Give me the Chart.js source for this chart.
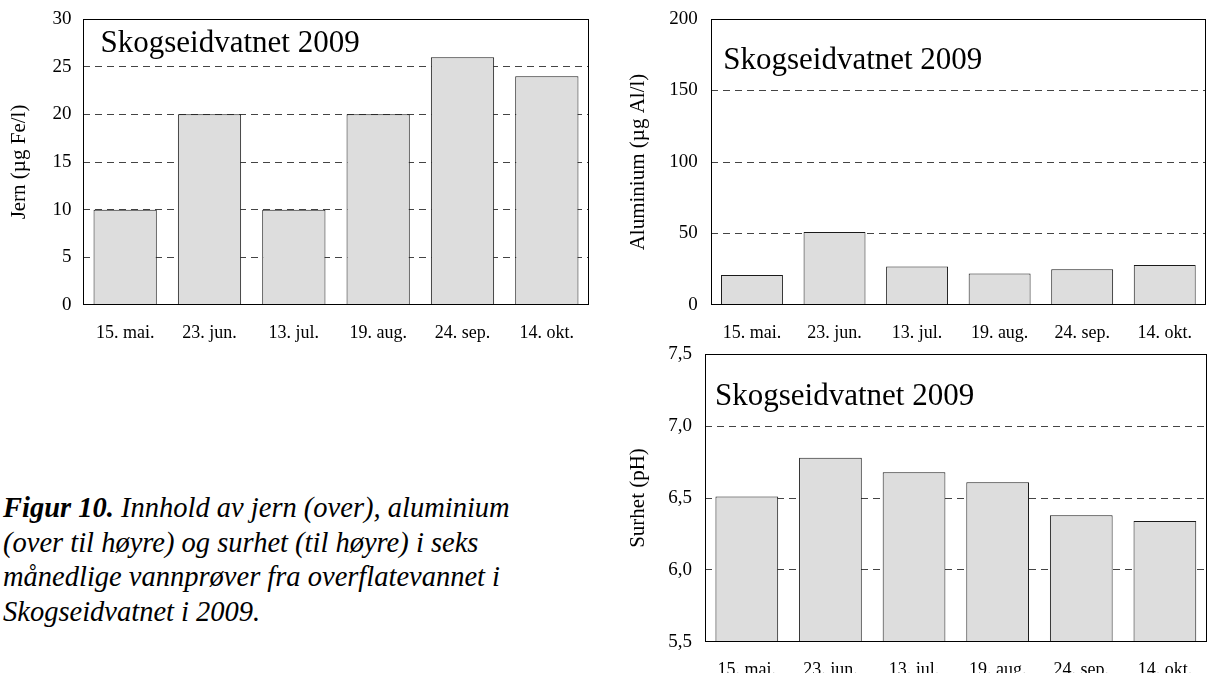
<!DOCTYPE html>
<html>
<head>
<meta charset="utf-8">
<script src="https://cdn.jsdelivr.net/npm/chart.js@4/dist/chart.umd.min.js"></script>
<style>
  html, body { margin: 0; padding: 0; background: #fff; }
  body { width: 1208px; height: 673px; position: relative; overflow: hidden; }
  .box { position: absolute; }
  .caption {
    position: absolute; left: 3px; top: 491px;
    font-family: "Liberation Serif", "Times New Roman", serif;
    font-style: italic; font-size: 28.5px; line-height: 34.7px;
    color: #000; white-space: nowrap;
  }
  .caption b { font-weight: bold; }
</style>
</head>
<body>
<div class="box" style="left:0px;top:0px;width:600px;height:345px;"><canvas id="c1"></canvas></div>
<div class="box" style="left:620px;top:0px;width:588px;height:345px;"><canvas id="c2"></canvas></div>
<div class="box" style="left:620px;top:330px;width:588px;height:343px;"><canvas id="c3"></canvas></div>
<div class="caption"><b>Figur 10.</b> Innhold av jern (over), aluminium<br>(over til høyre) og surhet (til høyre) i seks<br>månedlige vannprøver fra overflatevannet i<br>Skogseidvatnet i 2009.</div>
<script>
// ---- data ----
const dates = ['15. mai.', '23. jun.', '13. jul.', '19. aug.', '24. sep.', '14. okt.'];
const ironValues = [10, 20, 10, 20, 26, 24];
const aluminiumValues = [21, 51, 27, 22, 25, 28];
const phValues = [6.51, 6.78, 6.68, 6.61, 6.38, 6.34];
const ironTicks = ['0', '5', '10', '15', '20', '25', '30'];
const aluminiumTicks = ['0', '50', '100', '150', '200'];
const phTicks = ['5,5', '6,0', '6,5', '7,0', '7,5'];
const panelTitle = 'Skogseidvatnet 2009';
const ironTitle = 'Jern (µg Fe/l)';
const aluminiumTitle = 'Aluminium (µg Al/l)';
const phTitle = 'Surhet (pH)';

const SERIF = '"Liberation Serif", "Times New Roman", serif';

const framePlugin = {
  id: 'frame',
  afterDatasetsDraw(chart, args, opts) {
    const {ctx, chartArea: a} = chart;
    ctx.save();
    ctx.strokeStyle = '#000';
    ctx.lineWidth = 1;
    const l = Math.round(a.left) + 0.5, r = Math.round(a.right) - 0.5;
    const t = Math.round(a.top) + 0.5, b = Math.round(a.bottom) - 0.5;
    ctx.strokeRect(l, t, r - l, b - t);
    ctx.fillStyle = '#000';
    ctx.font = '31px ' + SERIF;
    ctx.textAlign = 'left';
    ctx.textBaseline = 'alphabetic';
    ctx.fillText(opts.text, a.left + opts.dx, a.top + opts.dy);
    ctx.restore();
  }
};

function makeChart(id, values, tickLabels, min, max, step, axisTitle, L) {
  return new Chart(document.getElementById(id), {
    type: 'bar',
    data: {
      labels: dates,
      datasets: [{
        data: values,
        backgroundColor: '#dddddd',
        borderColor: '#1a1a1a',
        borderWidth: 1,
        barPercentage: 0.75,
        categoryPercentage: 1.0
      }]
    },
    options: {
      responsive: true,
      maintainAspectRatio: false,
      animation: false,
      devicePixelRatio: 1,
      layout: { padding: { left: L.padLeft, top: L.padTop, right: L.padRight, bottom: 0 } },
      plugins: {
        legend: { display: false },
        tooltip: { enabled: false },
        frame: { text: panelTitle, dx: L.titleDx, dy: L.titleDy }
      },
      scales: {
        x: {
          type: 'category',
          grid: { display: false },
          border: { display: false },
          ticks: { color: '#000', padding: L.xPad, maxRotation: 0, autoSkip: false,
                   font: { family: SERIF, size: 18 } },
          afterFit(s) { s.height = L.xHeight; }
        },
        y: {
          min: min, max: max,
          grid: {
            drawTicks: false,
            color: (c) => (c.index === 0 ? 'rgba(0,0,0,0)' : '#444'),
            lineWidth: 1
          },
          border: { display: false, dash: [7, 5] },
          ticks: {
            stepSize: step, color: '#000', padding: L.tickPad,
            font: { family: SERIF, size: 19 },
            callback: (v, i) => tickLabels[i]
          },
          title: {
            display: true, text: axisTitle, color: '#000',
            font: { family: SERIF, size: 21 }, padding: { top: 4, bottom: 0 }
          },
          afterFit(s) { s.width = L.yWidth; s.paddingTop = 0; s.paddingBottom = 0; }
        }
      }
    },
    plugins: [framePlugin]
  });
}

makeChart('c1', ironValues, ironTicks, 0, 30, 5, ironTitle,
  { padLeft: 3, padTop: 19, padRight: 11, yWidth: 80, xHeight: 40, tickPad: 11.5, xPad: 9, titleDx: 17.5, titleDy: 33 });
makeChart('c2', aluminiumValues, aluminiumTicks, 0, 200, 50, aluminiumTitle,
  { padLeft: 2, padTop: 19, padRight: 2, yWidth: 88.7, xHeight: 40, tickPad: 13, xPad: 9, titleDx: 12.5, titleDy: 50 });
makeChart('c3', phValues, phTicks, 5.5, 7.5, 0.5, phTitle,
  { padLeft: 1.5, padTop: 24.3, padRight: 1.3, yWidth: 83.5, xHeight: 31.3, tickPad: 13, xPad: 10, titleDx: 10, titleDy: 51 });
</script>
</body>
</html>
